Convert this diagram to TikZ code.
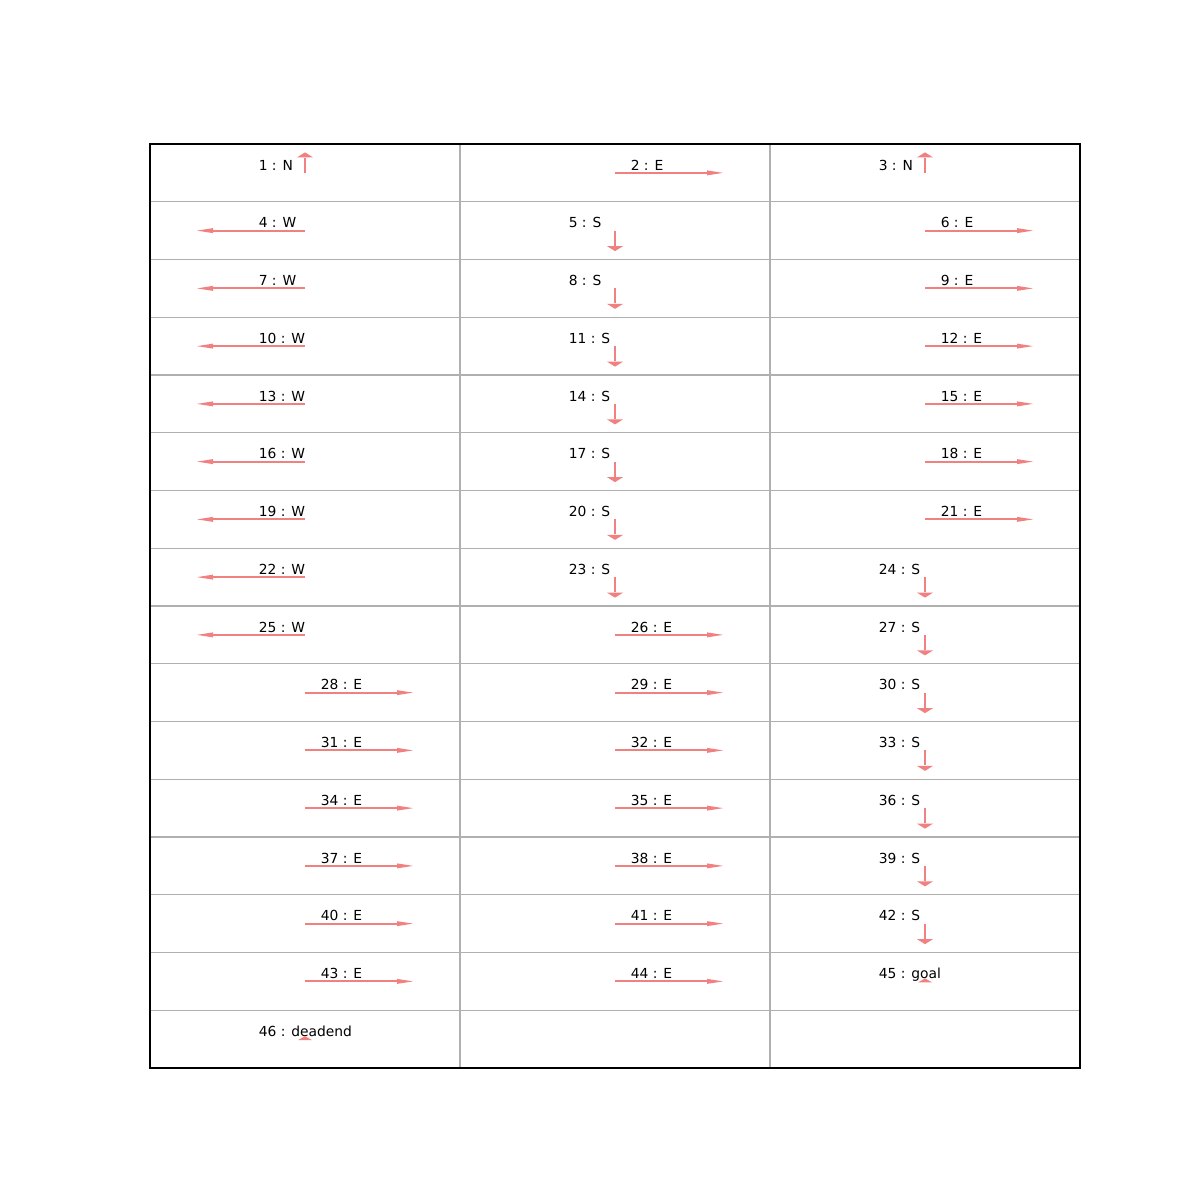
\documentclass[tikz,border=0pt]{standalone}
\usepackage{fontspec}
\setmainfont{DejaVu Sans}
\usetikzlibrary{calc}
\definecolor{arrowc}{RGB}{241,128,128}
\definecolor{gridc}{RGB}{176,176,176}
\begin{document}
\begin{tikzpicture}[x=0.01in,y=-0.01in,
  gridline/.style={draw=gridc,line width=0.8pt},
  frame/.style={draw=black,line width=0.8pt},
  shaft/.style={draw=arrowc,line width=1.44pt,line cap=butt},
  headfill/.style={fill=arrowc},
  lab/.style={anchor=base west,inner sep=0pt,font=\fontsize{10pt}{12pt}\selectfont}]
\useasboundingbox[fill=white] (0,0) rectangle (1200,1200);
% grid
\foreach \i in {1,...,15}{
  \pgfmathsetmacro\yy{144+57.75*\i}
  \draw[gridline] (150,\yy) -- (1080,\yy);
}
\draw[gridline] (460,144) -- (460,1068);
\draw[gridline] (770,144) -- (770,1068);
\draw[frame] (150,144) rectangle (1080,1068);
% cells: k / label / mode (0 N, 1 E, 2 S, 3 W, 4 none)
\foreach \k/\d/\m in {1/N/0,2/E/1,3/N/0,4/W/3,5/S/2,6/E/1,7/W/3,8/S/2,9/E/1,
  10/W/3,11/S/2,12/E/1,13/W/3,14/S/2,15/E/1,16/W/3,17/S/2,18/E/1,
  19/W/3,20/S/2,21/E/1,22/W/3,23/S/2,24/S/2,25/W/3,26/E/1,27/S/2,
  28/E/1,29/E/1,30/S/2,31/E/1,32/E/1,33/S/2,34/E/1,35/E/1,36/S/2,
  37/E/1,38/E/1,39/S/2,40/E/1,41/E/1,42/S/2,43/E/1,44/E/1,45/goal/4,46/deadend/4}{
  \pgfmathtruncatemacro\r{(\k-1)/3}
  \pgfmathtruncatemacro\c{\k-1-3*\r}
  \pgfmathsetmacro\cx{305+310*\c}
  \pgfmathsetmacro\cy{144+57.75*(\r+0.5)}
  \coordinate (p\k) at (\cx,\cy);
  \ifnum\m=1
    \node[lab] (c\k) at (\cx+15.5,\cy-2.7) {\k{} : \d};
  \else
    \node[lab] (c\k) at (\cx-46.5,\cy-2.7) {\k{} : \d};
  \fi
  \ifcase\m
    \coordinate (b\k) at (\cx,\cy-15);
    \coordinate (t\k) at (\cx,\cy-20.5);
    \draw[shaft] (p\k) -- (b\k);
    \fill[headfill] (t\k) -- ++(-8,5) -- ++(16,0) -- cycle;
  \or
    \coordinate (b\k) at (\cx+94,\cy);
    \coordinate (t\k) at (\cx+108,\cy);
    \draw[shaft] (p\k) -- (b\k);
    \fill[headfill] (t\k) -- ++(-16,-2.5) -- ++(0,5) -- cycle;
  \or
    \coordinate (b\k) at (\cx,\cy+15);
    \coordinate (t\k) at (\cx,\cy+20.5);
    \draw[shaft] (p\k) -- (b\k);
    \fill[headfill] (t\k) -- ++(-8,-5) -- ++(16,0) -- cycle;
  \or
    \coordinate (b\k) at (\cx-94,\cy);
    \coordinate (t\k) at (\cx-108,\cy);
    \draw[shaft] (p\k) -- (b\k);
    \fill[headfill] (t\k) -- ++(16,-2.5) -- ++(0,5) -- cycle;
  \or
    \fill[headfill] ($(p\k)+(-7,1)$) -- ($(p\k)+(0,-3)$) -- ($(p\k)+(7,1)$) -- cycle;
  \fi
}
\end{tikzpicture}
\end{document}
